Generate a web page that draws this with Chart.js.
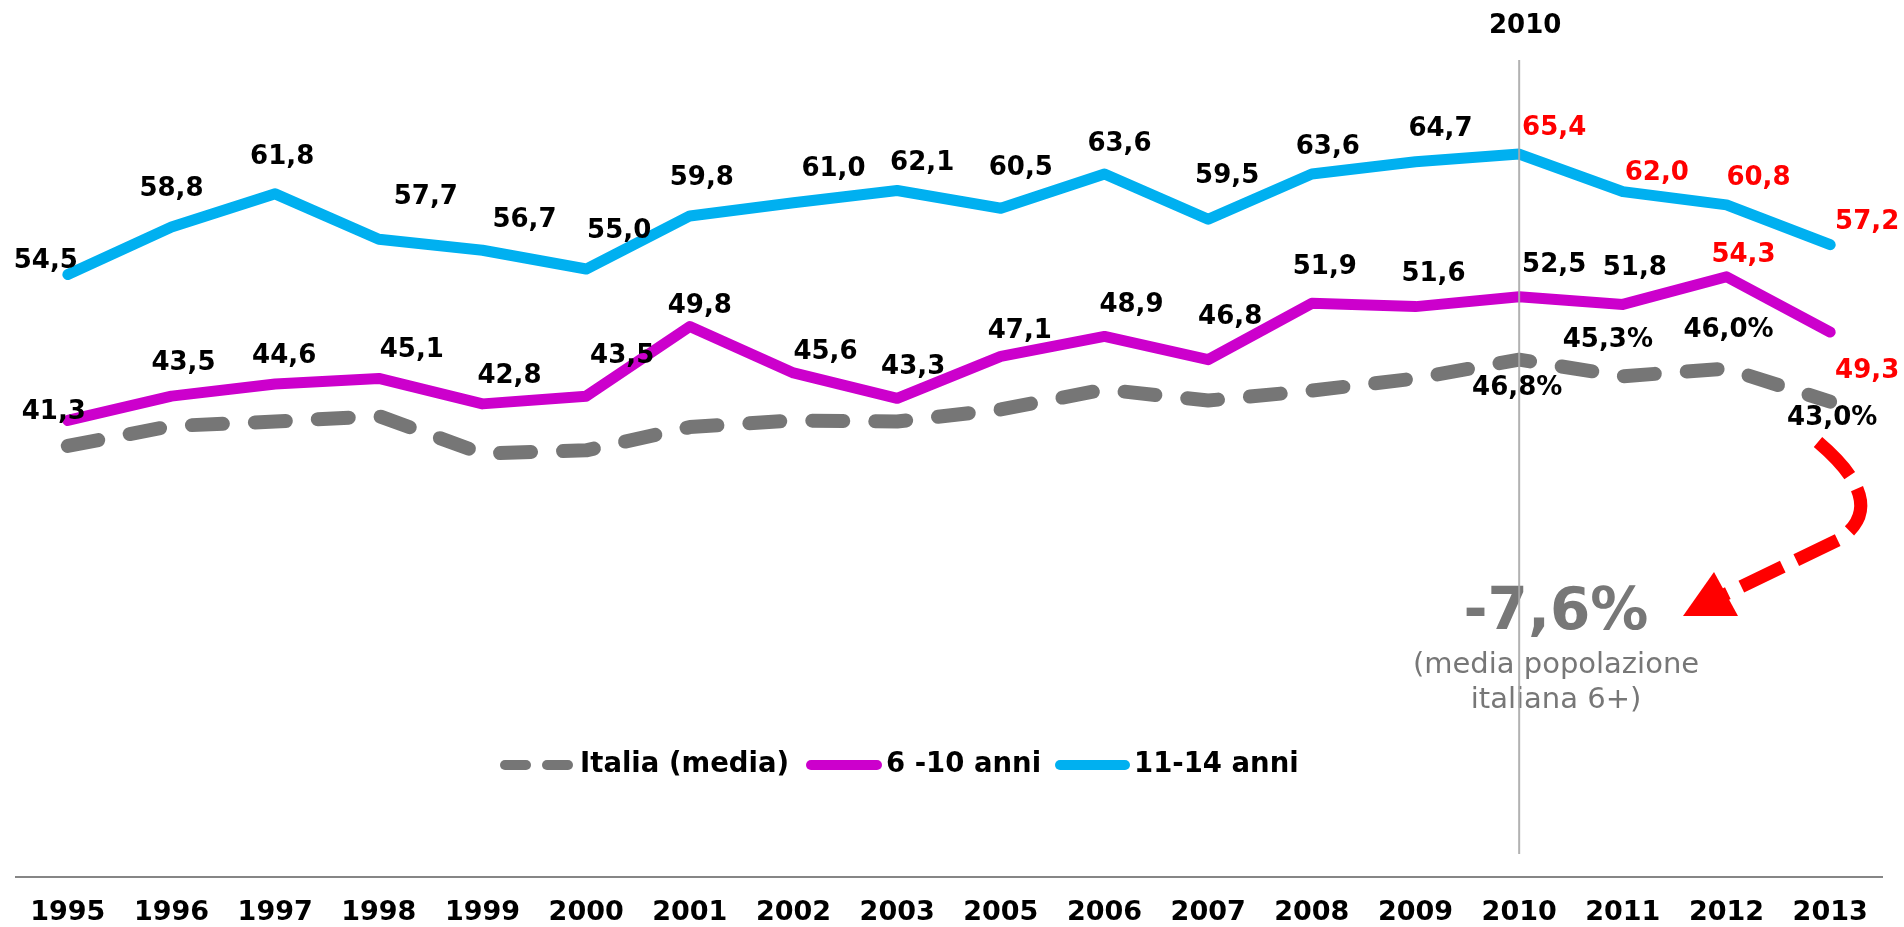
<!DOCTYPE html>
<html>
<head>
<meta charset="utf-8">
<script src="https://cdn.jsdelivr.net/npm/chart.js@4.4.1/dist/chart.umd.min.js"></script>
<style>
  html, body { margin: 0; padding: 0; background: #ffffff; }
  #wrap { width: 1904px; height: 927px; position: relative; }
</style>
</head>
<body>
<div id="wrap"><canvas id="c" width="1904" height="927"></canvas></div>
<script>
// ---- DATA ----
const categories = ['1995','1996','1997','1998','1999','2000','2001','2002','2003','2005','2006','2007','2008','2009','2010','2011','2012','2013'];
const italiaMedia = [39.0, 40.8, 41.2, 41.7, 38.3, 38.6, 40.7, 41.3, 41.2, 42.3, 44.1, 43.1, 44.0, 45.1, 46.8, 45.3, 46.0, 43.0];
const anni6_10   = [41.3, 43.5, 44.6, 45.1, 42.8, 43.5, 49.8, 45.6, 43.3, 47.1, 48.9, 46.8, 51.9, 51.6, 52.5, 51.8, 54.3, 49.3];
const anni11_14  = [54.5, 58.8, 61.8, 57.7, 56.7, 55.0, 59.8, 61.0, 62.1, 60.5, 63.6, 59.5, 63.6, 64.7, 65.4, 62.0, 60.8, 57.2];
const seriesNames = ['Italia (media)', '6 -10 anni', '11-14 anni'];
const markerYear = '2010';
const italiaLabelIdx = [14, 15, 16, 17];
const deltaText = '-7,6%';
const deltaNote = ['(media popolazione', 'italiana 6+)'];

// ---- STYLE / LAYOUT (not data) ----
const FONT = '"DejaVu Sans", Verdana, sans-serif';
const COL_GRAY = '#767676', COL_MAG = '#CC00CC', COL_BLUE = '#00B0F0', COL_RED = '#FF0000';
const off11 = [[-22,-13],[0,-38],[7,-37],[47,-42],[42,-30],[33,-38],[12,-38],[40,-33],[25,-27],[20,-40],[15,-30],[19,-43],[16,-27],[25,-33],[35,-26],[34,-18],[32,-27],[37,-22]];
const off6  = [[-14,-8],[12,-33],[9,-28],[33,-28],[27,-28],[36,-40],[10,-20],[32,-21],[16,-31],[19,-25],[27,-31],[22,-42],[13,-36],[18,-32],[35,-31],[12,-36],[17,-22],[37,39]];
const offIt = [[-2,29],[-15,-36],[2,-38],[2,17]];
const red11From = 14, red6From = 16;

const fmt = v => v.toFixed(1).replace('.', ',');

const labelsPlugin = {
  id: 'labels',
  afterDatasetsDraw(chart) {
    const ctx = chart.ctx;
    ctx.save();
    ctx.font = 'bold 26px ' + FONT;
    ctx.textAlign = 'center';
    ctx.textBaseline = 'middle';
    const m0 = chart.getDatasetMeta(0), m1 = chart.getDatasetMeta(1), m2 = chart.getDatasetMeta(2);
    m2.data.forEach((p, i) => {
      ctx.fillStyle = i >= red11From ? COL_RED : '#000000';
      ctx.fillText(fmt(anni11_14[i]), p.x + off11[i][0], p.y + off11[i][1]);
    });
    m1.data.forEach((p, i) => {
      ctx.fillStyle = i >= red6From ? COL_RED : '#000000';
      ctx.fillText(fmt(anni6_10[i]), p.x + off6[i][0], p.y + off6[i][1]);
    });
    italiaLabelIdx.forEach((idx, k) => {
      const p = m0.data[idx];
      ctx.fillStyle = '#000000';
      ctx.fillText(fmt(italiaMedia[idx]) + '%', p.x + offIt[k][0], p.y + offIt[k][1]);
    });
    ctx.restore();
  }
};

const decorPlugin = {
  id: 'decor',
  afterDraw(chart) {
    const ctx = chart.ctx;
    const xs = chart.scales.x;
    const xm = xs.getPixelForValue(categories.indexOf(markerYear));
    ctx.save();
    // legend
    const ly = 765;
    ctx.lineCap = 'round';
    ctx.lineWidth = 10;
    ctx.strokeStyle = COL_GRAY;
    ctx.beginPath(); ctx.moveTo(505, ly); ctx.lineTo(526, ly); ctx.stroke();
    ctx.beginPath(); ctx.moveTo(547, ly); ctx.lineTo(568, ly); ctx.stroke();
    ctx.strokeStyle = COL_MAG;
    ctx.beginPath(); ctx.moveTo(811, ly); ctx.lineTo(877, ly); ctx.stroke();
    ctx.strokeStyle = COL_BLUE;
    ctx.beginPath(); ctx.moveTo(1060, ly); ctx.lineTo(1125, ly); ctx.stroke();
    ctx.font = 'bold 27.5px ' + FONT;
    ctx.fillStyle = '#000000';
    ctx.textAlign = 'left';
    ctx.textBaseline = 'middle';
    ctx.fillText(seriesNames[0], 580, ly);
    ctx.fillText(seriesNames[1], 886, ly);
    ctx.fillText(seriesNames[2], 1134, ly);

    // annotation text
    ctx.textAlign = 'center';
    ctx.fillStyle = '#777777';
    ctx.font = 'bold 58px ' + FONT;
    ctx.fillText(deltaText, 1556, 614);
    ctx.font = '29px ' + FONT;
    ctx.fillText(deltaNote[0], 1556, 665);
    ctx.fillText(deltaNote[1], 1556, 700);

    // red dashed arrow
    ctx.strokeStyle = COL_RED;
    ctx.fillStyle = COL_RED;
    ctx.lineWidth = 13;
    ctx.lineCap = 'butt';
    ctx.setLineDash([46, 15]);
    ctx.beginPath();
    ctx.moveTo(1818, 442);
    ctx.quadraticCurveTo(1892, 505, 1838, 540);
    ctx.lineTo(1722, 596);
    ctx.stroke();
    ctx.setLineDash([]);
    ctx.beginPath();
    ctx.moveTo(1683, 616);
    ctx.lineTo(1714, 572);
    ctx.lineTo(1738, 616);
    ctx.closePath();
    ctx.fill();

    // 2010 vertical marker
    ctx.strokeStyle = 'rgba(170,170,170,0.9)';
    ctx.lineWidth = 2;
    ctx.beginPath();
    ctx.moveTo(xm, 60);
    ctx.lineTo(xm, 854);
    ctx.stroke();
    ctx.font = 'bold 26px ' + FONT;
    ctx.fillStyle = '#000000';
    ctx.textAlign = 'center';
    ctx.fillText(markerYear, xm + 6, 26);
    ctx.restore();
  }
};

new Chart(document.getElementById('c'), {
  type: 'line',
  data: {
    labels: categories,
    datasets: [
      { label: seriesNames[0], data: italiaMedia, borderColor: COL_GRAY, borderWidth: 14, borderDash: [31, 32],
        borderCapStyle: 'round', borderJoinStyle: 'round', pointRadius: 0, tension: 0, fill: false },
      { label: seriesNames[1], data: anni6_10, borderColor: COL_MAG, borderWidth: 11,
        borderCapStyle: 'round', borderJoinStyle: 'round', pointRadius: 0, tension: 0, fill: false },
      { label: seriesNames[2], data: anni11_14, borderColor: COL_BLUE, borderWidth: 11,
        borderCapStyle: 'round', borderJoinStyle: 'round', pointRadius: 0, tension: 0, fill: false }
    ]
  },
  options: {
    responsive: false,
    animation: false,
    devicePixelRatio: 1,
    layout: { padding: { top: 59, left: 16, right: 22, bottom: 0 } },
    plugins: { legend: { display: false }, tooltip: { enabled: false } },
    scales: {
      x: {
        offset: true,
        grid: { display: false, drawTicks: false },
        border: { display: true, color: '#868686', width: 2 },
        ticks: { color: '#000000', font: { family: FONT, size: 27, weight: 'bold' }, padding: 20, maxRotation: 0, autoSkip: false },
        afterFit: s => { s.height = 50; }
      },
      y: { display: false, min: 0, max: 74 }
    }
  },
  plugins: [labelsPlugin, decorPlugin]
});
</script>
</body>
</html>
